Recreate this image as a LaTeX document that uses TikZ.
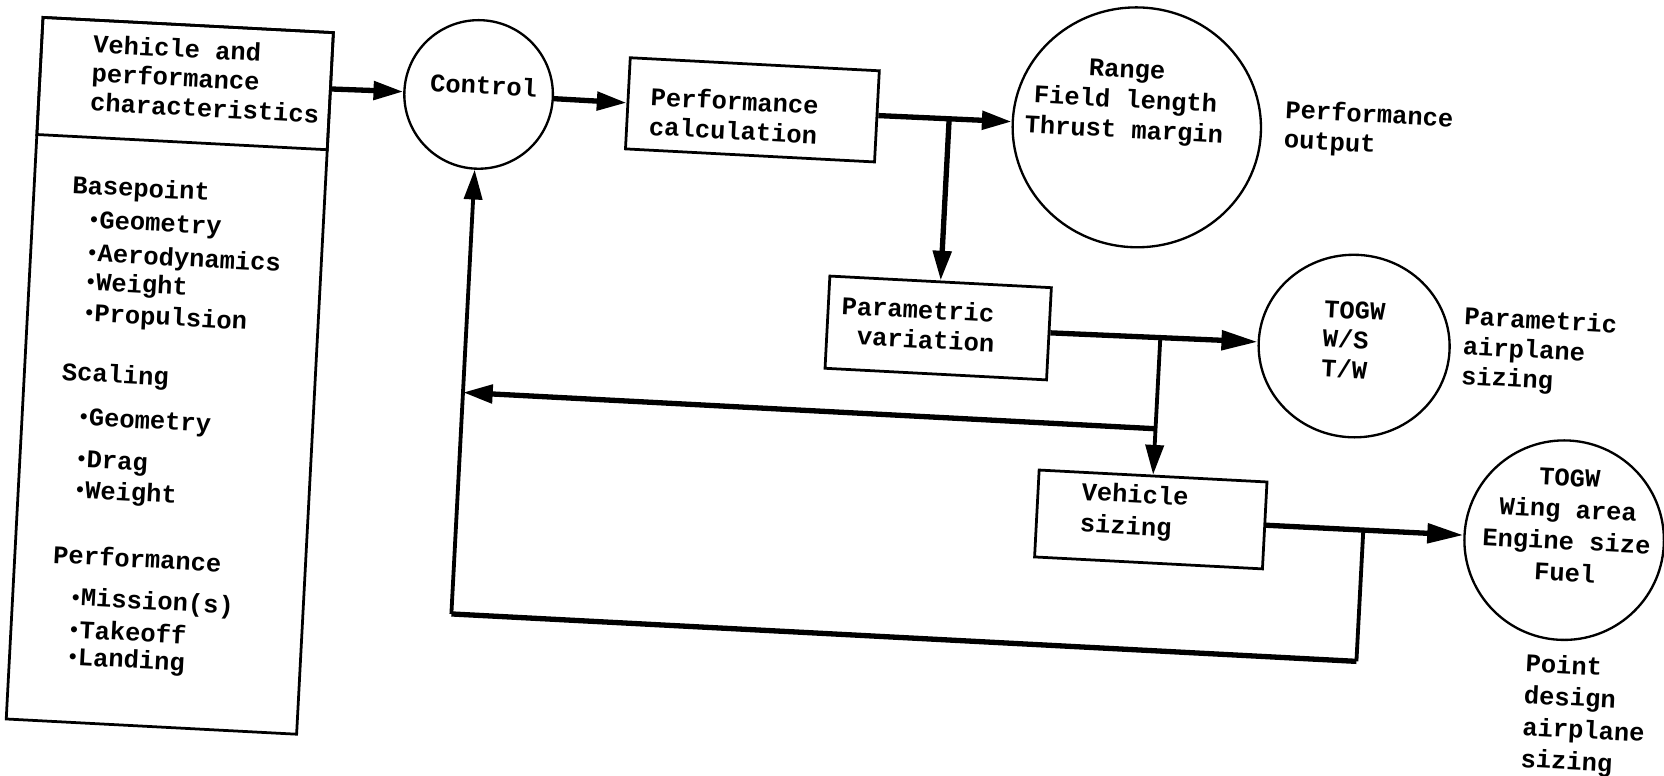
\documentclass[tikz,border=0pt]{standalone}
\usepackage{fontspec}
\usetikzlibrary{arrows.meta,shapes.geometric}
\newfontfamily\dgff{Liberation Mono}
\newcommand\dgf[1]{\dgff\bfseries\fontsize{12}{#1}\selectfont}
\newcommand\bul{\makebox[5.5pt][l]{\raisebox{0.1ex}{\fontsize{10}{10}\selectfont\textbullet}}}
\tikzset{
  box/.style={draw, line width=1.3pt, rectangle, inner sep=0pt},
  circ/.style={draw, line width=1.1pt, ellipse, inner sep=0pt},
  lbl/.style={font=\dgf{14}, inner sep=0pt, anchor=west, align=left},
  ctr/.style={font=\dgf{14.25}, inner sep=0pt, align=center},
  conn/.style={line width=2.5pt},
  thinconn/.style={line width=1.8pt},
  arr/.style={conn, -{Triangle[length=14pt,width=8.5pt]}},
  bigarr/.style={conn, -{Triangle[length=17pt,width=9pt]}},
}
\begin{document}
\begin{tikzpicture}[x=0.5pt,y=-0.5pt]
\useasboundingbox (0,0) rectangle (1568,731);
\begin{scope}[rotate around={-3:(784,365)}, transform shape]
% left input box
\node[box, minimum width=137pt, minimum height=331pt, anchor=north west] (lb) at (22,54.5) {};
\node[box, minimum width=137pt, minimum height=55.25pt, anchor=north west] (lbt) at (22,54.5) {};
\node[lbl, font=\dgf{13.75}] (vpc) at (71.5,105.4) {Vehicle and\\performance\\characteristics};
\node[lbl] (bp) at (59,213.7) {Basepoint};
\node[lbl] (bp1) at (75,246) {\bul Geometry};
\node[lbl] (bp2) at (75,277) {\bul Aerodynamics};
\node[lbl] (bp3) at (75,304) {\bul Weight};
\node[lbl] (bp4) at (75,333.5) {\bul Propulsion};
\node[lbl] (sc) at (58.3,390) {Scaling};
\node[lbl] (sc1) at (75,432.2) {\bul Geometry};
\node[lbl] (sc2) at (75,472.1) {\bul Drag};
\node[lbl] (sc3) at (75,500.2) {\bul Weight};
\node[lbl] (pf) at (59.2,560) {Performance};
\node[lbl] (pf1) at (76.4,601.6) {\bul Mission(s)};
\node[lbl] (pf2) at (76.4,629.6) {\bul Takeoff};
\node[lbl] (pf3) at (76.4,657.6) {\bul Landing};
% control
\node[circ, minimum width=70pt, minimum height=70pt] (ctrl) at (437,106.8) {};
\node[ctr] (ctrlt) at (441.3,97.6) {Control};
% performance calculation
\node[box, minimum width=117.5pt, minimum height=43pt] (perf) at (695.4,107.8) {};
\node[lbl] (perft) at (598.7,114) {Performance\\calculation};
% range circle
\node[circ, minimum width=117pt, minimum height=113pt] (rng) at (1058,105.3) {};
\node[ctr] (rngt) at (1046,82) {Range\\Field length\\Thrust margin};
\node[lbl] (po) at (1196.7,97) {Performance\\output};
% parametric variation
\node[box, minimum width=104.5pt, minimum height=43.5pt] (par) at (881,303.9) {};
\node[lbl] (part) at (788.7,301.2) {Parametric\\\hspace*{8pt}variation};
% TOGW circle
\node[circ, minimum width=90pt, minimum height=86pt] (togw) at (1273.3,300.4) {};
\node[lbl] (togwt) at (1243,294.9) {TOGW\\W/S\\T/W};
\node[lbl] (pas) at (1375.3,297) {Parametric\\airplane\\sizing};
% vehicle sizing
\node[box, minimum width=107.5pt, minimum height=41pt] (vs) at (1090.5,473.6) {};
\node[lbl, font=\dgf{15}] (vst) at (1023.7,467.6) {Vehicle\\sizing};
% point design circle
\node[circ, minimum width=94pt, minimum height=94pt] (pt) at (1480.5,472.7) {};
\node[ctr, font=\dgf{15}] (ptt) at (1482.8,458.6) {TOGW\\Wing area\\Engine size\\Fuel};
\node[lbl, font=\dgf{15}] (pdas) at (1450.1,637.3) {Point\\design\\airplane\\sizing};
% connectors
\coordinate (j1) at (881,106.5);
\coordinate (j2) at (1090.5,302.1);
\coordinate (r1) at (1090.5,388);
\coordinate (r2) at (437,388);
\coordinate (j3) at (1291,473.1);
\coordinate (c1) at (1291,597);
\coordinate (c2) at (437,597);
\draw[arr] (lbt) -- (ctrl);
\draw[arr] (ctrl) -- (perf);
\draw[arr] (perf) -- (rng);
\draw[arr] (j1) -- (par);
\draw[bigarr] (par) -- (togw);
\draw[arr, thinconn] (j2) -- (vs);
\draw[arr] (r1) -- (r2);
\draw[bigarr] (vs) -- (pt);
\draw[thinconn] (j3) -- (c1);
\draw[conn] (c1) -- (c2);
\draw[arr, thinconn] (c2) -- (ctrl);
\end{scope}
\end{tikzpicture}
\end{document}
